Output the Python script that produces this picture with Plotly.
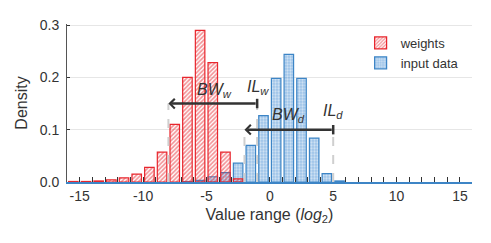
import plotly.graph_objects as go

weights_x = [-15.5, -14.5, -13.5, -12.5, -11.5, -10.5, -9.5, -8.5, -7.5, -6.5, -5.5, -4.5, -3.5, -2.5]
weights_y = [0.001, 0.001, 0.002, 0.004, 0.008, 0.015, 0.028, 0.057, 0.11, 0.2, 0.29, 0.228, 0.057, 0.006]
input_x = [-6.5, -5.5, -4.5, -3.5, -2.5, -1.5, -0.5, 0.5, 1.5, 2.5, 3.5, 4.5, 5.5]
input_y = [0.001, 0.003, 0.01, 0.018, 0.036, 0.07, 0.127, 0.198, 0.244, 0.198, 0.084, 0.016, 0.002]

bw_w = [-8, -1]
bw_w_y = 0.15
bw_d = [-2, 5]
bw_d_y = 0.10

x_ticks = [-15, -10, -5, 0, 5, 10, 15]
y_ticks = [0.0, 0.1, 0.2, 0.3]

RED = "#e8262d"
BLUE = "#3d85c6"
DARK = "#333333"
FONT = "Liberation Sans, Arial, sans-serif"

fig = go.Figure()
fig.add_trace(go.Bar(
    x=input_x, y=input_y, width=0.75, name="input data", legendrank=2,
    marker=dict(color="rgba(0,0,0,0)", line=dict(color=BLUE, width=1.2),
                pattern=dict(shape=".", fgcolor="white", bgcolor="rgba(77,145,212,0.55)",
                             size=3, solidity=0.45)),
))
fig.add_trace(go.Bar(
    x=weights_x, y=weights_y, width=0.75, name="weights", legendrank=1,
    marker=dict(color="rgba(0,0,0,0)", line=dict(color=RED, width=1.2),
                pattern=dict(shape="/", fgcolor=RED, bgcolor="rgba(255,255,255,0)", size=3, solidity=0.55)),
))

shapes = []
annotations = []
for (x0, x1), yv in [(bw_w, bw_w_y), (bw_d, bw_d_y)]:
    for xv in (x0, x1):
        shapes.append(dict(type="line", x0=xv, x1=xv, y0=0, y1=yv, xref="x", yref="y",
                           line=dict(color="#cfcfcf", width=2, dash="dash"), layer="above"))
    shapes.append(dict(type="line", x0=x1, x1=x1, y0=yv - 0.009, y1=yv + 0.009, xref="x", yref="y",
                       line=dict(color=DARK, width=2.5), layer="above"))
    annotations.append(dict(x=x0, y=yv, ax=x1, ay=yv, xref="x", yref="y", axref="x", ayref="y",
                            showarrow=True, arrowhead=4, arrowsize=0.75, arrowwidth=2.5,
                            arrowcolor=DARK, text=""))

label_font = dict(family=FONT, size=16, color=DARK)
annotations += [
    dict(x=-4.4, y=0.174, text="<i>BW<sub>w</sub></i>", showarrow=False, font=label_font, xref="x", yref="y"),
    dict(x=-0.9, y=0.18, text="<i>IL<sub>w</sub></i>", showarrow=False, font=label_font, xref="x", yref="y"),
    dict(x=1.5, y=0.127, text="<i>BW<sub>d</sub></i>", showarrow=False, font=label_font, xref="x", yref="y"),
    dict(x=5.0, y=0.134, text="<i>IL<sub>d</sub></i>", showarrow=False, font=label_font, xref="x", yref="y"),
]

fig.update_layout(
    width=491, height=243,
    margin=dict(l=67, r=19, t=24, b=61, autoexpand=False),
    barmode="overlay",
    plot_bgcolor="white", paper_bgcolor="white",
    font=dict(family=FONT, size=14, color=DARK),
    showlegend=True,
    legend=dict(x=0.725, y=0.975, xanchor="left", yanchor="top", bgcolor="rgba(0,0,0,0)",
                font=dict(size=13, color=DARK), itemwidth=30, tracegroupgap=0, traceorder="normal"),
    shapes=shapes,
    annotations=annotations,
    xaxis=dict(range=[-16, 15.95], tickvals=x_ticks, ticktext=[str(v) for v in x_ticks],
               ticks="inside", ticklen=5, tickcolor=DARK, tickwidth=1, automargin=False,
               minor=dict(dtick=1, tick0=0, ticks="inside", ticklen=5, tickcolor=DARK, showgrid=False),
               showline=True, linecolor=BLUE, linewidth=1.5, showgrid=False, zeroline=False,
               title=dict(text="Value range (<i>log</i><sub>2</sub>)", font=dict(size=16), standoff=6)),
    yaxis=dict(range=[0, 0.302], tickvals=y_ticks, ticktext=["0.0", "0.1", "0.2", "0.3"],
               ticks="inside", ticklen=3, tickcolor=DARK, automargin=False, ticklabelstandoff=4,
               showline=True, linecolor="#555555", linewidth=1, showgrid=True, gridcolor="#e6e6e6",
               zeroline=False,
               title=dict(text="Density", font=dict(size=16), standoff=8)),
)

fig.write_html("out.html", config={"displayModeBar": False},
               post_script="document.body.style.margin='0';document.body.style.overflow='hidden';")
